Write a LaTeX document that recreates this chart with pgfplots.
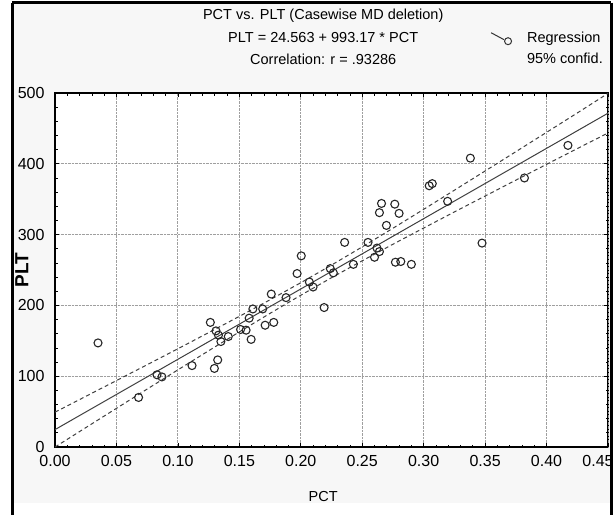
\documentclass[border=0pt]{standalone}
\usepackage{fontspec}
\setmainfont{Liberation Sans}
\usepackage{pgfplots}
\usepackage{pgfplotstable}
\pgfplotsset{compat=1.18}

\pgfplotstableread{
x y
0.035 147
0.068 70
0.083 102
0.087 99
0.1115 115
0.1264 176
0.1297 111
0.1324 123
0.131 164
0.133 158
0.135 149
0.141 156
0.151 166
0.1555 165
0.1596 152
0.158 182
0.161 195
0.169 195
0.171 172
0.178 176
0.176 216
0.188 211
0.197 245
0.2004 270
0.207 233
0.21 226
0.219 197
0.224 252
0.2265 246
0.2357 289
0.2428 258
0.2547 289
0.26 268
0.262 281
0.264 276
0.264 331
0.2657 344
0.2697 313
0.2765 343
0.28 330
0.277 261
0.2814 262
0.29 258
0.3045 369
0.307 372
0.3195 347
0.338 408
0.3475 288
0.382 380
0.4174 426
}\scatterdata

% 95% confidence band
\pgfplotstableread{
x lo hi
0 -0.07 49.19
0.025 27.30 71.48
0.05 54.61 93.83
0.075 81.85 116.25
0.1 108.97 138.79
0.125 135.92 161.50
0.15 162.58 184.50
0.175 188.80 207.94
0.2 214.36 232.04
0.225 239.11 256.95
0.25 263.05 282.65
0.275 286.38 308.98
0.3 309.31 335.71
0.325 331.99 362.69
0.35 354.50 389.84
0.375 376.90 417.10
0.4 399.24 444.42
0.425 421.52 471.80
0.45 443.49 499.47
}\bands

\begin{document}
\begin{tikzpicture}
\useasboundingbox (0,0) rectangle (616bp,-515bp);
\fill[gray!6] (13bp,-4bp) rectangle (611bp,-503bp);
\begin{axis}[
    at={(55bp,-447bp)}, anchor=south west,
    width=553bp, height=354bp, scale only axis,
    xmin=0, xmax=0.45, ymin=0, ymax=500,
    xtick={0,0.05,0.1,0.15,0.2,0.25,0.3,0.35,0.4},
    extra x ticks={0.45},
    extra x tick style={grid=major, xticklabel style={xshift=-10bp}},
    ytick={0,100,200,300,400,500},
    minor x tick num=4, minor y tick num=4,
    tick align=inside,
    tick style={black, line width=0.7bp},
    major tick length=4bp, minor tick length=2.5bp,
    grid=major,
    major grid style={gray!75, densely dotted, line width=0.8bp},
    axis line style={black, line width=1.3bp},
    axis background/.style={fill=white},
    /pgf/number format/assume math mode=true,
    ticklabel style={font=\fontsize{16bp}{18bp}\selectfont},
    xticklabel style={yshift=-5bp, /pgf/number format/fixed, /pgf/number format/fixed zerofill, /pgf/number format/precision=2},
    yticklabel style={xshift=-7bp},
    xlabel={PCT},
    xlabel style={font=\fontsize{14.5bp}{16bp}\selectfont, at={(axis description cs:0.485,-0.141)}, anchor=center},
    ylabel={PLT},
    ylabel style={font=\fontsize{19bp}{21bp}\selectfont\bfseries, at={(axis description cs:-0.06,0.5)}, anchor=center},
    title={PCT vs. PLT (Casewise MD deletion)\\PLT = 24.563 + 993.17 * PCT\\Correlation: r = .93286},
    title style={font=\fontsize{14.5bp}{22.5bp}\selectfont, align=center, at={(axis description cs:0.485,1.158)}, anchor=center, yshift=-6bp},
    legend style={draw=none, fill=none, at={(axis description cs:1.0,1.185)}, anchor=north east,
        font=\fontsize{14.5bp}{16bp}\selectfont, row sep=5bp},
    legend cell align=left,
]
\addplot[only marks, mark=o, mark size=4bp, mark options={line width=1.1bp, draw=black!85}, forget plot] table {\scatterdata};
\addplot[black!75, line width=1bp, forget plot] coordinates {(0,24.563) (0.45,471.49)};
\addplot[black!75, line width=1bp, dash pattern=on 4bp off 3bp, forget plot] table[y=lo] {\bands};
\addplot[black!75, line width=1bp, dash pattern=on 4bp off 3bp, forget plot] table[y=hi] {\bands};
\addlegendimage{legend image code/.code={
    \path[draw=none, fill=none] (-2bp,-1bp) rectangle (34bp,1bp);
    \draw[black!80, line width=1bp] (0bp,5bp) -- (13bp,-2bp);
    \draw[black!80, line width=1bp] (17bp,-3.5bp) circle (3.5bp);}}
\addlegendentry{Regression}
\addlegendimage{empty legend}
\addlegendentry{95\% confid.}
\end{axis}
\fill[white] (612.5bp,2bp) rectangle (620bp,-520bp);
\draw[black, line width=3bp] (12bp,-2.5bp) -- (611bp,-2.5bp);
\draw[black, line width=3bp] (12bp,-2.5bp) -- (12bp,-520bp);
\draw[black, line width=3bp] (611bp,-2.5bp) -- (611bp,-520bp);
\end{tikzpicture}
\end{document}
